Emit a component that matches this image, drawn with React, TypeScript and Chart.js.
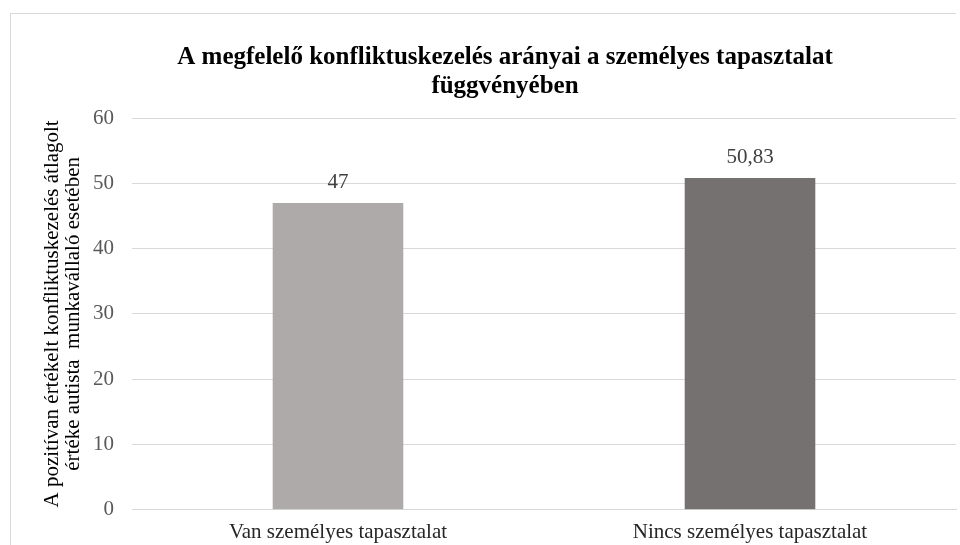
import React, { useEffect, useRef } from "react";
import { Chart, registerables } from "chart.js";

Chart.register(...registerables);

const categories = ["Van személyes tapasztalat", "Nincs személyes tapasztalat"];
const values = [47, 50.83];
const valueLabels = ["47", "50,83"];
const barColors = ["#AEAAAA", "#767171"];
const titleLines = [
  "A megfelelő konfliktuskezelés arányai a személyes tapasztalat",
  "függvényében",
];
const yTitleLines = [
  "A pozitívan értékelt konfliktuskezelés átlagolt",
  "értéke autista  munkavállaló esetében",
];

const SERIF = "'Liberation Serif', 'Times New Roman', serif";

const titlePlugin = {
  id: "customTitle",
  afterDraw(chart: any) {
    const ctx = chart.ctx;
    ctx.save();
    ctx.font = `bold 25px ${SERIF}`;
    ctx.fillStyle = "#000000";
    ctx.textAlign = "center";
    ctx.textBaseline = "middle";
    ctx.fillText(titleLines[0], 505, 58);
    ctx.fillText(titleLines[1], 505, 87);
    ctx.restore();
  },
};

const labelPlugin = {
  id: "valueLabels",
  afterDatasetsDraw(chart: any) {
    const ctx = chart.ctx;
    const meta = chart.getDatasetMeta(0);
    ctx.save();
    ctx.font = `21px ${SERIF}`;
    ctx.fillStyle = "#404040";
    ctx.textAlign = "center";
    ctx.textBaseline = "middle";
    meta.data.forEach((bar: any, i: number) => {
      ctx.fillText(valueLabels[i], bar.x, bar.y - 20);
    });
    ctx.restore();
  },
};

export default function App() {
  const ref = useRef<HTMLCanvasElement>(null);
  useEffect(() => {
    if (!ref.current) return;
    const chart = new Chart(ref.current, {
      type: "bar",
      data: {
        labels: categories,
        datasets: [
          {
            data: values,
            backgroundColor: barColors,
            barPercentage: 0.317,
            categoryPercentage: 1,
          },
        ],
      },
      options: {
        animation: false,
        responsive: false,
        maintainAspectRatio: false,
        layout: { padding: { left: 42, right: 4, top: 118, bottom: 0 } },
        plugins: {
          legend: { display: false },
          title: { display: false },
          tooltip: { enabled: false },
        },
        scales: {
          x: {
            grid: {
              display: true,
              color: "transparent",
              drawTicks: true,
              tickLength: 10,
              tickColor: "transparent",
            },
            border: { display: true, color: "#D9D9D9", width: 1 },
            ticks: {
              color: "#262626",
              font: { family: SERIF, size: 21 },
              padding: 0,
              maxRotation: 0,
            },
          },
          y: {
            min: 0,
            max: 60,
            ticks: {
              stepSize: 10,
              color: "#595959",
              font: { family: SERIF, size: 21 },
              padding: 9,
            },
            grid: {
              color: "#D9D9D9",
              drawTicks: true,
              tickLength: 9,
              tickColor: "transparent",
            },
            border: { display: false },
            title: {
              display: true,
              text: yTitleLines,
              color: "#000000",
              font: { family: SERIF, size: 21, lineHeight: 1.0 },
              padding: 0,
            },
          },
        },
      },
      plugins: [titlePlugin, labelPlugin],
    });
    return () => chart.destroy();
  }, []);
  return (
    <div
      style={{
        position: "fixed",
        left: 0,
        top: 0,
        width: 960,
        height: 545,
        background: "#ffffff",
        overflow: "hidden",
      }}
    >
      <div
        style={{
          position: "absolute",
          left: 10,
          top: 13,
          width: 946,
          height: 600,
          borderLeft: "1px solid #D9D9D9",
          borderTop: "1px solid #D9D9D9",
          boxSizing: "border-box",
        }}
      />
      <canvas
        ref={ref}
        width={960}
        height={545}
        style={{ position: "absolute", left: 0, top: 0, width: 960, height: 545 }}
      />
    </div>
  );
}
